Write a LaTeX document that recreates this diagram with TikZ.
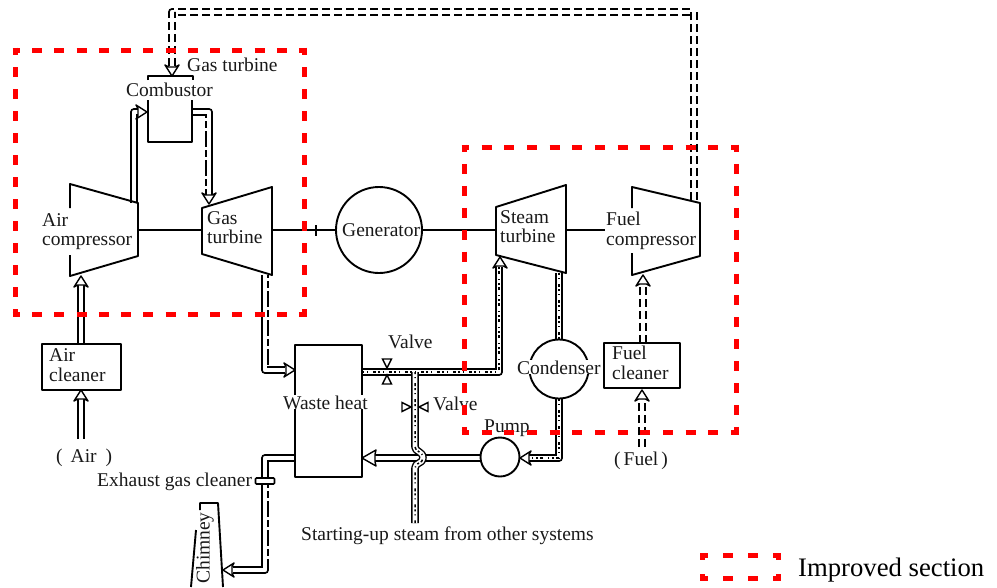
\documentclass[tikz,border=0pt]{standalone}
\usepackage{fontspec}
\setmainfont{Liberation Serif}
\tikzset{
  x=1pt,y=-1pt,
  shaft/.style={draw=black,line width=1.6pt},
  outline/.style={draw=black,line width=1.9pt,line join=round},
  lbl/.style={font=\fontsize{19.5}{19.8}\selectfont,inner sep=0pt,anchor=base west,text=black!90},
  gap/.style={lbl,fill=white},
  pipe/.style={draw=black,line width=1.4pt,double=white,double distance=4.8pt,line join=round},
  speck/.style={draw=black,line width=1.5pt,dash pattern=on 2pt off 3pt on 1pt off 5pt on 3pt off 2pt},
  fuelpipe/.style={pipe,dash pattern=on 8pt off 4pt},
  gasgap/.style={draw=white,line width=2.4pt,dash pattern=on 3pt off 7pt on 3pt off 16pt},
  redbox/.style={draw=red,line width=5pt,dash phase=2.5pt},
  headtip/.pic={\draw[fill=white,draw=black,line width=1.4pt,line join=round] (0,0)--(-11,7)--(-9,3.4)--(-9,-3.4)--(-11,-7)--cycle;},
  bighead/.pic={\draw[fill=white,draw=black,line width=1.4pt,line join=round] (0,0)--(-14,8)--(-13,3.6)--(-13,-3.6)--(-14,-8)--cycle;},
  valvetip/.pic={\draw[fill=white,draw=black,line width=1.4pt] (0,0)--(9,-4.5)--(9,4.5)--cycle;}
}
\newcommand\steampipe[1]{\draw[pipe]#1;\draw[speck]#1;}
\begin{document}
\begin{tikzpicture}
\useasboundingbox (0,0) rectangle (997,587);
% anchors
\coordinate (ac1) at (70,184); \coordinate (ac2) at (138,203); \coordinate (ac3) at (138,256); \coordinate (ac4) at (70,276);
\coordinate (gt1) at (202,208); \coordinate (gt2) at (272,187); \coordinate (gt3) at (272,275); \coordinate (gt4) at (202,254);
\coordinate (st1) at (496,207); \coordinate (st2) at (566,185); \coordinate (st3) at (566,273); \coordinate (st4) at (496,255);
\coordinate (fc1) at (632,187); \coordinate (fc2) at (700,203); \coordinate (fc3) at (700,256); \coordinate (fc4) at (632,275);
\node[circle,minimum size=86pt,inner sep=0pt,outline] (gen) at (379,230) {};
% shafts
\draw[shaft] (138,230) coordinate (sa) -- (202,230) coordinate (sb);
\draw[shaft] (272,230) coordinate (sc) -- (gen.west);
\draw[shaft] (316,225) coordinate (tk) -- (316,236);
\draw[shaft] (gen.east) -- (496,230) coordinate (sd);
\draw[shaft] (566,230) coordinate (se) -- (605,230) coordinate (sf);
% fuel gas line
\coordinate (fgA) at (694,200); \coordinate (fgB) at (172,66);
\draw[fuelpipe] (fgA) -- (694,12) -- (172,12) -- (fgB);
\coordinate (hfg) at (172,76);
% air
\coordinate (airA) at (81,439); \coordinate (airB) at (81,344); \coordinate (airC) at (81,285);
\draw[pipe] (airA) -- (81,399);
\draw[pipe] (airB) -- (airC);
% air compressor -> combustor
\draw[pipe] (134,203) coordinate (ccA) -- (134,112) -- (139,112) coordinate (ccB);
% combustor -> gas turbine
\draw[pipe] (192,112) coordinate (ctA) -- (209,112) -- (209,195) coordinate (ctB);
\draw[gasgap] (206,118) coordinate (ctC) -- (206,190) coordinate (ctD);
% exhaust to waste heat
\draw[pipe] (265,275) coordinate (exA) -- (265,370) -- (285,370) coordinate (exB);
\draw[gasgap] (268,278) coordinate (exC) -- (268,366) coordinate (exD);
% waste heat to chimney
\draw[pipe] (295,458) coordinate (wcA) -- (265,458) -- (265,570) -- (233,570) coordinate (wcB);
\draw[gasgap] (268,488) coordinate (wcC) -- (268,566) coordinate (wcD);
% steam
\steampipe{(362,372) coordinate (stA) -- (499,372) -- (499,267) coordinate (stB)}
\steampipe{(559,273) coordinate (cdA) -- (559,340) coordinate (cdB)}
\steampipe{(559,399) coordinate (cdC) -- (559,458) -- (529,458) coordinate (cdD)}
\draw[pipe] (481,458) coordinate (puA) -- (375,458) coordinate (puB);
\steampipe{(415,372) coordinate (brA) -- (415,447) .. controls (415,452) and (423,451) .. (423,458) .. controls (423,464) and (415,462) .. (415,468) -- (415,523) coordinate (brB)}
% fuel
\draw[fuelpipe] (642,447) coordinate (fuA) -- (642,399) coordinate (fuB);
\draw[fuelpipe] (643,343) coordinate (fuC) -- (643,284) coordinate (fuD);
% turbomachines
\draw[outline] (70,208) coordinate (acL) -- (ac1) -- (ac2) -- (ac3) -- (ac4) -- (70,255) coordinate (acM);
\draw[outline,fill=white] (gt1) -- (gt2) -- (gt3) -- (gt4) -- cycle;
\draw[outline,fill=white] (st1) -- (st2) -- (st3) -- (st4) -- cycle;
\draw[outline] (632,208) coordinate (fcL) -- (fc1) -- (fc2) -- (fc3) -- (fc4) -- (632,253) coordinate (fcM);
% boxes
\node[outline,fill=white,minimum width=79pt,minimum height=46pt,inner sep=0pt] (aircl) at (81.5,367) {};
\node[outline,fill=white,minimum width=76pt,minimum height=45pt,inner sep=0pt] (fuelcl) at (642,365.5) {};
\node[outline,fill=white,minimum width=67pt,minimum height=132pt,inner sep=0pt] (waste) at (328.5,411) {};
\draw[outline,fill=white] (148,100) coordinate (cbA) -- (148,142) -- (192,142) -- (192,100) coordinate (cbB);
\draw[outline] (148,80) coordinate (cbC) -- (148,76) -- (193,76) -- (193,80) coordinate (cbD);
\node[circle,fill=white,minimum size=59pt,inner sep=0pt,outline] (cond) at (559,369) {};
\node[circle,fill=white,minimum size=39pt,inner sep=0pt,outline] (pump) at (500,457) {};
% heads
\pic[rotate=-90] at (hfg) {headtip};
\pic[rotate=90] at (81,390) {headtip};
\pic[rotate=90] at (81,276) {headtip};
\pic at (147,112) {headtip};
\pic[rotate=-90] at (209,204) {headtip};
\pic at (295,370) {headtip};
\pic[rotate=180] at (223,570) {headtip};
\pic[rotate=90] at (500,257) {headtip};
\pic[rotate=180] at (362,458) {bighead};
\pic[rotate=180] at (520,458) {headtip};
\pic[rotate=90] at (642,390) {headtip};
\pic[rotate=90] at (643,275) {headtip};
% valves
\pic[rotate=90] at (387,368) {valvetip};
\pic[rotate=-90] at (387,375) {valvetip};
\pic[rotate=0] at (419,407) {valvetip};
\pic[rotate=180] at (411,407) {valvetip};
% exhaust gas cleaner
\node[draw=black,line width=1.6pt,fill=white,rounded corners=1pt,minimum width=19pt,minimum height=6pt,inner sep=0pt] (egc) at (265,481) {};
% chimney
\draw[outline] (200,510) coordinate (chA) -- (200,503) -- (218,503) -- (223,587) coordinate (chB);
\draw[outline] (196,530) coordinate (chC) -- (191,587) coordinate (chD);
\node[lbl,rotate=90,anchor=center] (chim) at (205,548) {Chimney};
% labels
\node[gap,inner xsep=1pt] (tc) at (516,374) {Condenser};
\node[gap] (tw) at (283,409) {Waste heat};
\node[lbl] (t1) at (187,71) {Gas turbine};
\node[gap] (t2) at (126,96) {Combustor};
\node[gap,anchor=north west,align=left] (t3) at (42,213) {Air\\compressor};
\node[lbl,anchor=north west,align=left] (t5) at (207,211) {Gas\\turbine};
\node[lbl] (t7) at (342,236) {Generator};
\node[lbl,anchor=north west,align=left] (t8) at (500,210) {Steam\\turbine};
\node[gap,anchor=north west,align=left] (t10) at (606,212) {Fuel\\compressor};
\node[lbl,anchor=north west,align=left] (t12) at (612,346) {Fuel\\cleaner};
\node[lbl,anchor=north west,align=left] (t14) at (49,348.5) {Air\\cleaner};
\node[lbl] (t16) at (56,462) {(\hspace{8pt}Air\hspace{9pt})};
\node[lbl] (t17) at (614,465) {(\hspace{3pt}Fuel\hspace{3pt})};
\node[lbl] (t18) at (388,348) {Valve};
\node[lbl] (t19) at (433,410) {Valve};
\node[lbl] (t20) at (484,432) {Pump};
\node[lbl] (t21) at (97,486) {Exhaust gas cleaner};
\node[lbl] (t22) at (301,540) {Starting-up steam from other systems};
% red
\draw[redbox,dash pattern=on 10pt off 12.23pt] (12.5,50) coordinate (ra) -- (306.5,50) coordinate (rb);
\draw[redbox,dash pattern=on 10pt off 12.23pt] (12.5,314) coordinate (rc) -- (306.5,314) coordinate (rd);
\draw[redbox,dash pattern=on 10pt off 12pt] (15,47.5) coordinate (re) -- (15,316.5) coordinate (rf);
\draw[redbox,dash pattern=on 10pt off 12pt] (304,47.5) coordinate (rg) -- (304,316.5) coordinate (rh);
\draw[redbox,dash pattern=on 10pt off 12.67pt] (461.5,147) coordinate (qa) -- (738.5,147) coordinate (qb);
\draw[redbox,dash pattern=on 10pt off 12.67pt] (461.5,432) coordinate (qc) -- (738.5,432) coordinate (qd);
\draw[redbox,dash pattern=on 10pt off 11.92pt] (464,144.5) coordinate (qe) -- (464,434.5) coordinate (qf);
\draw[redbox,dash pattern=on 10pt off 11.92pt] (736,144.5) coordinate (qg) -- (736,434.5) coordinate (qh);
% legend
\draw[draw=red,line width=5pt,dash pattern=on 10pt off 15pt,dash phase=2pt] (700,555.5) coordinate (la) -- (781,555.5) coordinate (lb);
\draw[draw=red,line width=5pt,dash pattern=on 10pt off 15pt,dash phase=2pt] (700,578.5) coordinate (lc) -- (781,578.5) coordinate (ld);
\draw[draw=red,line width=5pt] (702.5,553) coordinate (le) -- (702.5,560) coordinate (lf) (778.5,553) coordinate (lg) -- (778.5,560) coordinate (lh) (702.5,574) coordinate (li) -- (702.5,581) coordinate (lj) (778.5,574) coordinate (lk) -- (778.5,581) coordinate (ll);
\node[inner sep=0pt,anchor=base west,font=\fontsize{26.7}{28}\selectfont] (leg) at (798,576) {Improved section};
\end{tikzpicture}
\end{document}
